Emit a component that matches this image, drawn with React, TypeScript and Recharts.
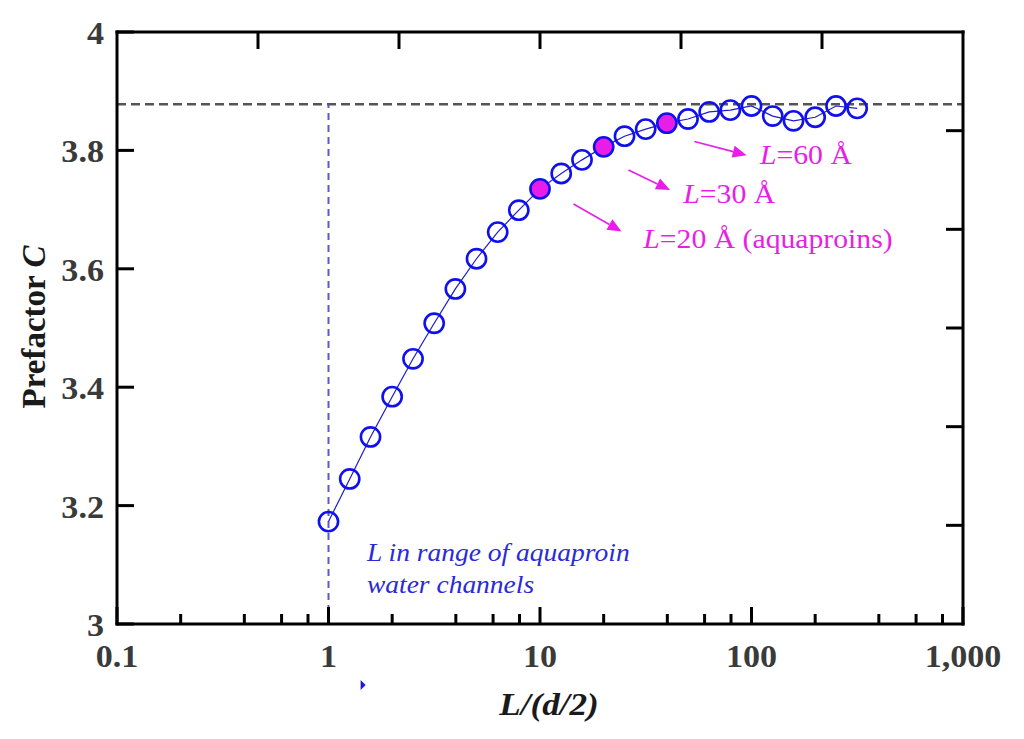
import { LineChart, Line, XAxis, YAxis, ReferenceLine, ReferenceDot } from "recharts";

const SERIF = '"Liberation Serif", "Times New Roman", serif';
const BLUE = "#1010ee";
const MAGENTA = "#e81ee8";
const TICK_TEXT = "#3a3a3a";

// L/(d/2) sample points and prefactor C
const ratio = [
  1, 1.26, 1.58, 2, 2.51, 3.16, 3.98, 5.01, 6.31, 7.94, 10, 12.6, 15.8, 20,
  25.1, 31.6, 39.8, 50.1, 63.1, 79.4, 100, 126, 158, 200, 251, 316,
];
const prefactor = [
  3.173, 3.245, 3.316, 3.384, 3.448, 3.508, 3.566, 3.617, 3.662, 3.699, 3.735,
  3.761, 3.784, 3.806, 3.824, 3.836, 3.846, 3.853, 3.865, 3.868, 3.875, 3.858,
  3.85, 3.856, 3.875, 3.871,
];
const highlighted = [10, 13, 16]; // L = 20, 30, 60 Å
const plateau = 3.878;

const xTicks = [
  0.1, 0.2, 0.4, 0.6, 0.8, 1, 2, 4, 6, 8, 10, 20, 40, 60, 80, 100, 200, 400,
  600, 800, 1000,
];
const xLabels: Record<string, string> = {
  "0.1": "0.1",
  "1": "1",
  "10": "10",
  "100": "100",
  "1000": "1,000",
};
const yTicks = [3, 3.2, 3.4, 3.6, 3.8, 4];
const frameTicks = [1, 2, 3, 4, 5]; // plain ticks on the top / right frame

// magenta annotations (data coordinates)
const noteLabels = ["=60 Å", "=30 Å", "=20 Å (aquaproins)"];
const noteX = [109.7, 47.6, 30.8];
const noteY = [3.7765, 3.7117, 3.6346];
const arrowFromX = [53.7, 26.2, 14.4];
const arrowFromY = [3.815, 3.767, 3.7095];
const arrowToX = [94.9, 41.2, 24.3];
const arrowToY = [3.792, 3.733, 3.663];

const rangeLines = ["L in range of aquaproin", "water channels"];
const rangeX = 1.52;
const rangeY = [3.107, 3.052];

const rows = ratio.map((x, i) => ({ x, c: prefactor[i] }));

function BottomTick({ x, y, payload }: any) {
  const label = xLabels[String(payload.value)];
  return (
    <g>
      <line x1={x} x2={x} y1={y} y2={y - (label ? 17 : 10)} stroke="#000" strokeWidth={3} />
      {label && (
        <text
          transform={`translate(${x},${y + 43}) scale(1.1,1)`}
          textAnchor="middle"
          fontFamily={SERIF}
          fontWeight="bold"
          fontSize={31}
          fill={TICK_TEXT}
        >
          {label}
        </text>
      )}
    </g>
  );
}

function LeftTick({ x, y, payload }: any) {
  return (
    <g>
      <line x1={x} x2={x + 17} y1={y} y2={y} stroke="#000" strokeWidth={3} />
      <text
        transform={`translate(${x - 13},${y + 12}) scale(1.1,1)`}
        textAnchor="end"
        fontFamily={SERIF}
        fontWeight="bold"
        fontSize={31}
        fill={TICK_TEXT}
      >
        {String(payload.value)}
      </text>
    </g>
  );
}

function TopTick({ x, y }: any) {
  return <line x1={x} x2={x} y1={y} y2={y + 17} stroke="#000" strokeWidth={3} />;
}

function RightTick({ x, y }: any) {
  return <line x1={x} x2={x - 17} y1={y} y2={y} stroke="#000" strokeWidth={3} />;
}

function Marker(p: any) {
  if (p.cx == null || p.cy == null) return <g key={p.index} />;
  const hi = highlighted.includes(p.index);
  return (
    <circle
      key={p.index}
      cx={p.cx}
      cy={p.cy}
      r={9.6}
      fill={hi ? MAGENTA : "none"}
      stroke={BLUE}
      strokeWidth={2.6}
    />
  );
}

function Arrow(p: any) {
  const { x1, y1, x2, y2 } = p;
  const dx = x2 - x1;
  const dy = y2 - y1;
  const len = Math.hypot(dx, dy) || 1;
  const ux = dx / len;
  const uy = dy / len;
  const head = 14;
  const half = 6;
  const bx = x2 - ux * head;
  const by = y2 - uy * head;
  return (
    <g>
      <line x1={x1} y1={y1} x2={bx} y2={by} stroke={MAGENTA} strokeWidth={1.6} />
      <polygon
        points={`${x2},${y2} ${bx - uy * half},${by + ux * half} ${bx + uy * half},${by - ux * half}`}
        fill={MAGENTA}
      />
    </g>
  );
}

const axisLine = { stroke: "#000", strokeWidth: 3, strokeLinecap: "square" as const };

export default function App() {
  return (
    <div style={{ position: "absolute", left: 0, top: 0, width: 1024, height: 739, background: "#fff" }}>
      <LineChart
        width={1024}
        height={739}
        data={rows}
        margin={{ top: 31, right: 60, bottom: 0, left: 0 }}
      >
        <XAxis
          xAxisId="bottom"
          dataKey="x"
          type="number"
          scale="log"
          domain={[0.1, 1000]}
          allowDataOverflow
          ticks={xTicks}
          interval={0}
          height={115}
          tickSize={0}
          tickMargin={0}
          tickLine={false}
          axisLine={axisLine}
          tick={<BottomTick />}
        />
        <XAxis
          xAxisId="top"
          orientation="top"
          dataKey="x"
          type="number"
          domain={[0, 6]}
          allowDataOverflow
          ticks={frameTicks}
          interval={0}
          height={1}
          tickSize={0}
          tickMargin={0}
          tickLine={false}
          axisLine={axisLine}
          tick={<TopTick />}
        />
        <YAxis
          yAxisId="left"
          type="number"
          domain={[3, 4]}
          allowDataOverflow
          ticks={yTicks}
          interval={0}
          width={117}
          tickSize={0}
          tickMargin={0}
          tickLine={false}
          axisLine={axisLine}
          tick={<LeftTick />}
        />
        <YAxis
          yAxisId="right"
          orientation="right"
          type="number"
          domain={[0, 6]}
          allowDataOverflow
          ticks={frameTicks}
          interval={0}
          width={1}
          tickSize={0}
          tickMargin={0}
          tickLine={false}
          axisLine={axisLine}
          tick={<RightTick />}
        />

        <ReferenceLine
          xAxisId="bottom"
          yAxisId="left"
          y={plateau}
          stroke="#555"
          strokeWidth={2.5}
          strokeDasharray="9 5"
        />
        <ReferenceLine
          xAxisId="bottom"
          yAxisId="left"
          segment={[
            { x: 1, y: 3 },
            { x: 1, y: plateau },
          ]}
          stroke="#5a5ac8"
          strokeWidth={2}
          strokeDasharray="7 5"
        />

        {noteLabels.map((_, i) => (
          <ReferenceLine
            key={`arrow-${i}`}
            xAxisId="bottom"
            yAxisId="left"
            segment={[
              { x: arrowFromX[i], y: arrowFromY[i] },
              { x: arrowToX[i], y: arrowToY[i] },
            ]}
            ifOverflow="visible"
            shape={Arrow}
          />
        ))}
        {noteLabels.map((label, i) => (
          <ReferenceDot
            key={`note-${i}`}
            xAxisId="bottom"
            yAxisId="left"
            x={noteX[i]}
            y={noteY[i]}
            r={0}
            ifOverflow="visible"
            shape={(p: any) => (
              <text
                transform={`translate(${p.cx},${p.cy}) scale(1.1,1)`}
                fontFamily={SERIF}
                fontSize={27}
                fill={MAGENTA}
              >
                <tspan fontStyle="italic">L</tspan>
                {label}
              </text>
            )}
          />
        ))}
        {rangeLines.map((line, i) => (
          <ReferenceDot
            key={`range-${i}`}
            xAxisId="bottom"
            yAxisId="left"
            x={rangeX}
            y={rangeY[i]}
            r={0}
            ifOverflow="visible"
            shape={(p: any) => (
              <text
                transform={`translate(${p.cx},${p.cy}) scale(1.1,1)`}
                fontFamily={SERIF}
                fontStyle="italic"
                fontSize={25}
                fill="#2a2ad8"
              >
                {line}
              </text>
            )}
          />
        ))}
        <ReferenceDot
          xAxisId="bottom"
          yAxisId="left"
          x={1.45}
          y={2.897}
          r={0}
          ifOverflow="visible"
          shape={(p: any) => (
            <polygon
              points={`${p.cx - 2},${p.cy - 5} ${p.cx + 3},${p.cy} ${p.cx - 2},${p.cy + 5}`}
              fill="#1a1ae0"
            />
          )}
        />

        <Line
          xAxisId="bottom"
          yAxisId="left"
          dataKey="c"
          type="linear"
          stroke="#1c1ccc"
          strokeWidth={1.2}
          dot={Marker}
          activeDot={false}
          isAnimationActive={false}
        />
      </LineChart>

      <svg
        width={1024}
        height={739}
        style={{ position: "absolute", left: 0, top: 0, pointerEvents: "none" }}
      >
        <text
          transform="translate(45,327) rotate(-90)"
          textAnchor="middle"
          fontFamily={SERIF}
          fontWeight="bold"
          fontSize={33}
          fill="#1a1a1a"
        >
          Prefactor <tspan fontStyle="italic">C</tspan>
        </text>
        <text
          transform="translate(549,715) scale(1.1,1)"
          textAnchor="middle"
          fontFamily={SERIF}
          fontWeight="bold"
          fontStyle="italic"
          fontSize={32}
          fill="#1a1a1a"
        >
          L/(d/2)
        </text>
      </svg>
    </div>
  );
}
